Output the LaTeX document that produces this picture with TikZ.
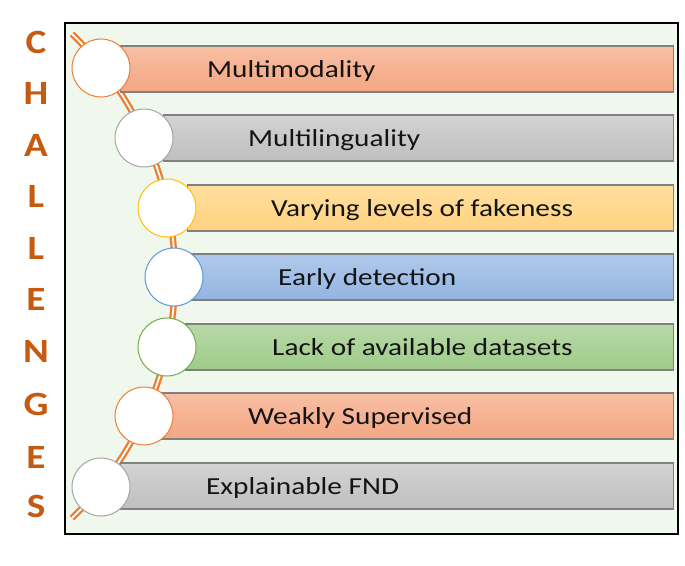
\documentclass[tikz,border=0pt]{standalone}
\usepackage{fontspec}
\setmainfont{Carlito}
\usepackage{graphicx}
\definecolor{frameBg}{HTML}{F0F7EC}
\definecolor{spineOr}{HTML}{ED7D31}
\definecolor{letterOr}{HTML}{C55A11}
\definecolor{orTop}{HTML}{F8BFA4}
\definecolor{orBot}{HTML}{F4A683}
\definecolor{grTop}{HTML}{D3D3D3}
\definecolor{grBot}{HTML}{BFBFBF}
\definecolor{yeTop}{HTML}{FFDF9F}
\definecolor{yeBot}{HTML}{FFD280}
\definecolor{blTop}{HTML}{B1C9EB}
\definecolor{blBot}{HTML}{92B5E2}
\definecolor{gnTop}{HTML}{B8D9A7}
\definecolor{gnBot}{HTML}{9FCB8A}
\definecolor{cOr}{HTML}{ED7D31}
\definecolor{cGr}{HTML}{A5A5A5}
\definecolor{cYe}{HTML}{FFC000}
\definecolor{cBl}{HTML}{5B9BD5}
\definecolor{cGn}{HTML}{70AD47}
\newcommand{\wtxt}[1]{\scalebox{1.22}[1.02]{#1}}
\newcommand{\ltr}[1]{\scalebox{1.15}[1]{#1}}
\begin{document}
\begin{tikzpicture}[x=1pt,y=-1pt,
  barbox/.style={draw=black!50, line width=1.1pt, rectangle, inner sep=0pt,
     minimum height=46pt, anchor=west, shading angle=0},
  circbox/.style={circle, fill=white, line width=1pt, minimum size=58pt, inner sep=0pt},
  label/.style={anchor=base west, inner sep=0pt, font=\fontsize{24}{28}\selectfont, text=black!92},
  letter/.style={inner sep=0pt, font=\fontsize{34}{40}\selectfont\bfseries, text=letterOr},
  spine/.style={draw=spineOr, line width=2.3pt, double=white, double distance=1.8pt}
]
\useasboundingbox (0,0) rectangle (685,565);
% frame
\node[draw=black, line width=1.8pt, fill=frameBg, rectangle, minimum width=613pt,
      minimum height=511pt, anchor=north west, inner sep=0pt] (frame) at (64,22) {};
% spine arc
\coordinate (arctop) at (72,34);
\draw[spine] (arctop) arc[start angle=-46.08, end angle=46.08, radius=336];
% bars
\node[barbox, top color=orTop, bottom color=orBot, minimum width=553pt] (b1) at (120,69) {};
\node[barbox, top color=grTop, bottom color=grBot, minimum width=510pt] (b2) at (163,138) {};
\node[barbox, top color=yeTop, bottom color=yeBot, minimum width=486pt] (b3) at (187,208) {};
\node[barbox, top color=blTop, bottom color=blBot, minimum width=483pt] (b4) at (190,277) {};
\node[barbox, top color=gnTop, bottom color=gnBot, minimum width=488pt] (b5) at (185,347) {};
\node[barbox, top color=orTop, bottom color=orBot, minimum width=513pt] (b6) at (160,416) {};
\node[barbox, top color=grTop, bottom color=grBot, minimum width=553pt] (b7) at (120,486) {};
% circles
\node[circbox, draw=cOr] (c1) at (101,68) {};
\node[circbox, draw=cGr] (c2) at (144,138) {};
\node[circbox, draw=cYe] (c3) at (167,208) {};
\node[circbox, draw=cBl] (c4) at (174,277) {};
\node[circbox, draw=cGn] (c5) at (167,347) {};
\node[circbox, draw=cOr] (c6) at (144,416) {};
\node[circbox, draw=cGr] (c7) at (101,487) {};
% labels
\node[label] (t1) at (207,77) {\wtxt{Multimodality}};
\node[label] (t2) at (248,146.5) {\wtxt{Multilinguality}};
\node[label] (t3) at (271,216.5) {\wtxt{Varying levels of fakeness}};
\node[label] (t4) at (278,285.5) {\wtxt{Early detection}};
\node[label] (t5) at (272,355.5) {\wtxt{Lack of available datasets}};
\node[label] (t6) at (248,424.5) {\wtxt{Weakly Supervised}};
\node[label] (t7) at (206,494.5) {\wtxt{Explainable FND}};
% CHALLENGES
\node[letter] (l1) at (36,42) {\ltr{C}};
\node[letter] (l2) at (36,93) {\ltr{H}};
\node[letter] (l3) at (36,145) {\ltr{A}};
\node[letter] (l4) at (36,196) {\ltr{L}};
\node[letter] (l5) at (36,248) {\ltr{L}};
\node[letter] (l6) at (36,299) {\ltr{E}};
\node[letter] (l7) at (36,351) {\ltr{N}};
\node[letter] (l8) at (36,404) {\ltr{G}};
\node[letter] (l9) at (36,457) {\ltr{E}};
\node[letter] (l10) at (36,506) {\ltr{S}};
\end{tikzpicture}
\end{document}
